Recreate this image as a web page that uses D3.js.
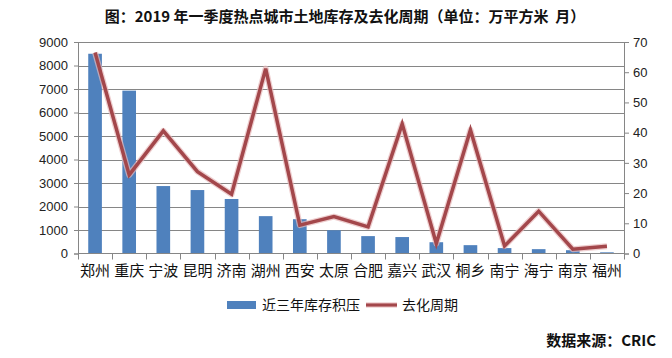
<!DOCTYPE html>
<html>
<head>
<meta charset="utf-8">
<script src="https://cdn.jsdelivr.net/npm/d3@7"></script>
<style>
body{margin:0;background:#fff;}
svg{display:block;}
</style>
</head>
<body>
<svg id="c" width="672" height="358"></svg>
<script>
const categories = ["郑州","重庆","宁波","昆明","济南","湖州","西安","太原","合肥","嘉兴","武汉","桐乡","南宁","海宁","南京","福州"];
const inventory = [8500,6930,2870,2700,2320,1590,1460,990,740,700,480,355,230,185,140,50];
const cycle = [66.5,26,40.6,27.1,19.6,61.2,9.4,12.2,8.8,42.9,3.3,40.9,2.5,14,1.4,2.4];
const leftTicks = [0,1000,2000,3000,4000,5000,6000,7000,8000,9000];
const rightTicks = [0,10,20,30,40,50,60,70];
const titleText = "图：2019 年一季度热点城市土地库存及去化周期（单位：万平方米  月）";
const legendLabels = ["近三年库存积压","去化周期"];
const sourceText = "数据来源：CRIC";

const svg = d3.select("#c");
const L = 78, R = 624, T = 42, B = 253.5;
const x = d3.scaleBand().domain(categories).range([L, R]).paddingInner(0.6).paddingOuter(0.3);
const xb = d3.scaleBand().domain(categories).range([L, R]);
const yL = d3.scaleLinear().domain([0,9000]).range([B, T]);
const yR = d3.scaleLinear().domain([0,70]).range([B, T]);
const cjk = "'Noto Sans CJK SC', sans-serif";
const num = "'Liberation Sans', Arial, sans-serif";
const grid = "#868686";

// title
svg.append("text").attr("x", 345).attr("y", 22).attr("text-anchor","middle")
  .attr("font-family", cjk).attr("font-weight","bold").attr("font-size",15).attr("fill","#111")
  .attr("xml:space","preserve").style("white-space","pre")
  .text(titleText);

// gridlines
svg.append("g").selectAll("line").data(leftTicks.slice(1)).join("line")
  .attr("x1", L).attr("x2", R).attr("y1", d=>Math.round(yL(d))+0.5).attr("y2", d=>Math.round(yL(d))+0.5)
  .attr("stroke", grid).attr("stroke-width",1);

// left axis
const gl = svg.append("g").attr("transform",`translate(${L},0)`)
  .call(d3.axisLeft(yL).tickValues(leftTicks).tickFormat(d3.format("d")).tickSize(4).tickPadding(6));
gl.select(".domain").attr("stroke", grid);
gl.selectAll(".tick line").attr("stroke", grid);
gl.selectAll("text").attr("font-family", num).attr("font-size",13).attr("fill","#222");

// right axis
const gr = svg.append("g").attr("transform",`translate(${R},0)`)
  .call(d3.axisRight(yR).tickValues(rightTicks).tickFormat(d3.format("d")).tickSize(5).tickPadding(4));
gr.select(".domain").attr("stroke", grid);
gr.selectAll(".tick line").attr("stroke", grid);
gr.selectAll("text").attr("font-family", num).attr("font-size",13).attr("fill","#222");

// bars
svg.append("g").selectAll("rect").data(inventory).join("rect")
  .attr("x", (d,i)=>x(categories[i])).attr("width", x.bandwidth())
  .attr("y", d=>yL(d)).attr("height", d=>B - yL(d))
  .attr("fill","#4f81bd");

// bottom axis
const gb = svg.append("g").attr("transform",`translate(0,${B})`);
gb.append("line").attr("x1",L).attr("x2",R).attr("y1",0).attr("y2",0).attr("stroke",grid);
const bounds = categories.map(c=>xb(c)).concat([R]);
gb.selectAll("line.t").data(bounds).join("line").attr("class","t")
  .attr("x1",d=>Math.round(d)+0.5).attr("x2",d=>Math.round(d)+0.5).attr("y1",0).attr("y2",6).attr("stroke",grid);
gb.selectAll("text").data(categories).join("text")
  .attr("x", c=>xb(c)+xb.bandwidth()/2).attr("y", 22).attr("text-anchor","middle")
  .attr("font-family", cjk).attr("font-size",15).attr("fill","#111").text(c=>c);

// line
const lineGen = d3.line().x((d,i)=>xb(categories[i])+xb.bandwidth()/2).y(d=>yR(d));
svg.append("path").datum(cycle).attr("d", lineGen).attr("fill","none")
  .attr("stroke","#e7b9bb").attr("stroke-width",6).attr("stroke-linejoin","round").attr("opacity",0.7);
svg.append("path").datum(cycle).attr("d", lineGen).attr("fill","none")
  .attr("stroke","#a3474b").attr("stroke-width",3.5).attr("stroke-linejoin","miter");

// legend
const lg = svg.append("g");
lg.append("rect").attr("x",227).attr("y",301).attr("width",29).attr("height",8).attr("fill","#4f81bd");
lg.append("text").attr("x",262).attr("y",310).attr("font-family",cjk).attr("font-size",14).attr("fill","#111").text(legendLabels[0]);
lg.append("line").attr("x1",366).attr("x2",397).attr("y1",305).attr("y2",305).attr("stroke","#e7b9bb").attr("stroke-width",5);
lg.append("line").attr("x1",366).attr("x2",397).attr("y1",305).attr("y2",305).attr("stroke","#a3474b").attr("stroke-width",3);
lg.append("text").attr("x",402).attr("y",310).attr("font-family",cjk).attr("font-size",14).attr("fill","#111").text(legendLabels[1]);

// source
svg.append("text").attr("x",656).attr("y",346).attr("text-anchor","end")
  .attr("font-family",cjk).attr("font-weight","bold").attr("font-size",15).attr("fill","#111").text(sourceText);
</script>
</body>
</html>
